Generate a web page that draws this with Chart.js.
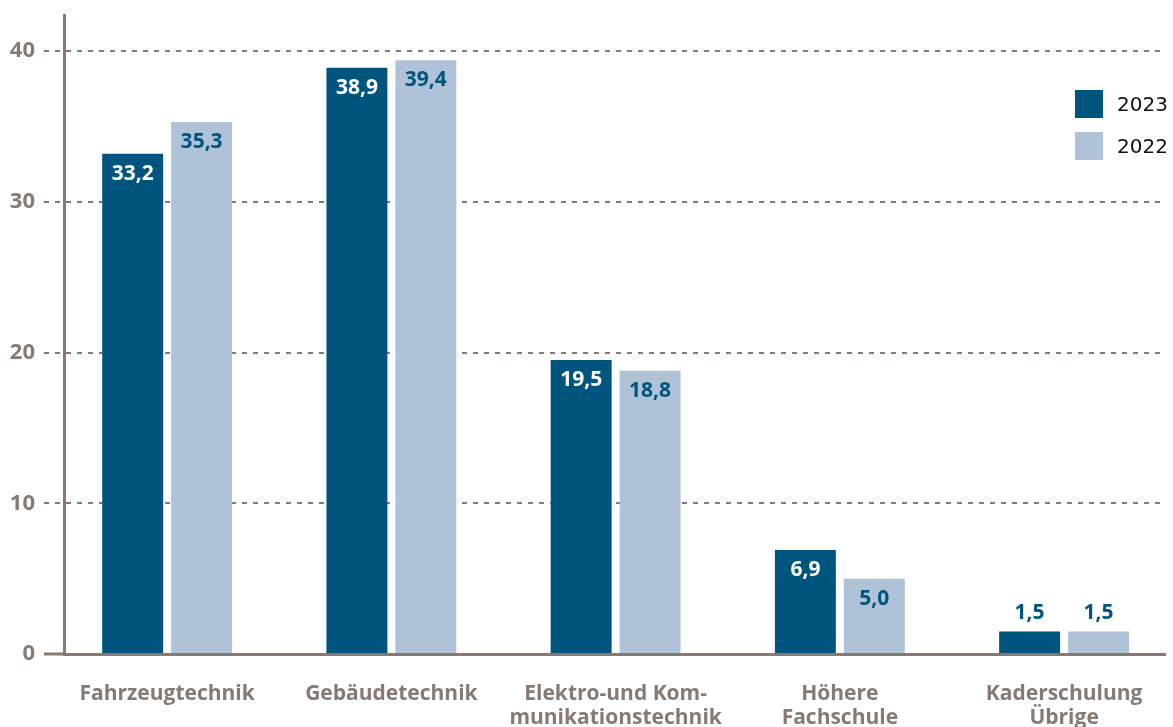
<!DOCTYPE html>
<html lang="de">

<head>
    <meta charset="UTF-8">
    <meta name="viewport" content="width=device-width, initial-scale=1.0">
    <script src="https://cdn.jsdelivr.net/npm/chart.js"></script>
    <title>Lernende nach Bereich</title>
    <style>
        body { margin: 0; background: #fff; }
        .grafico { position: relative; width: 1173px; height: 727px; overflow: hidden; }
        #legende { position: absolute; left: 1075px; top: 90px; font-family: "DejaVu Sans", sans-serif; font-size: 20px; color: #111; }
        .item { display: flex; align-items: center; height: 28px; margin-bottom: 14px; }
        .caixa { width: 28px; height: 28px; margin-right: 14px; }
    </style>
</head>

<body>
    <div class="grafico">
        <canvas id="bereichChart"></canvas>
        <div id="legende"></div>
    </div>
</body>

</html>

<script>
    // Daten
    const bereiche = [
        ['Fahrzeugtechnik'],
        ['Gebäudetechnik'],
        ['Elektro-und Kom-', 'munikationstechnik'],
        ['Höhere', 'Fachschule'],
        ['Kaderschulung', 'Übrige']
    ];
    const werte2023 = [33.2, 38.9, 19.5, 6.9, 1.5];
    const werte2022 = [35.3, 39.4, 18.8, 5.0, 1.5];
    const jahre = ['2023', '2022'];
    const yTicks = [0, 10, 20, 30, 40];

    const dunkel = '#00557f';
    const hell = '#afc2d8';
    const grau = '#877a72';

    // Werte-Beschriftung auf den Balken
    const wertePlugin = {
        id: 'werte',
        afterDatasetsDraw(chart) {
            const ctx = chart.ctx;
            ctx.save();
            ctx.font = 'bold 21px "Open Sans"';
            ctx.textAlign = 'center';
            ctx.textBaseline = 'middle';
            chart.data.datasets.forEach((ds, i) => {
                chart.getDatasetMeta(i).data.forEach((bar, j) => {
                    const texto = ds.data[j].y.toFixed(1).replace('.', ',');
                    const h = bar.base - bar.y;
                    if (h > 40) {
                        ctx.fillStyle = i === 0 ? '#ffffff' : dunkel;
                        ctx.fillText(texto, bar.x, bar.y + 20);
                    } else {
                        ctx.fillStyle = dunkel;
                        ctx.fillText(texto, bar.x, bar.y - 18);
                    }
                });
            });
            ctx.restore();
        }
    };

    const chart = new Chart(document.getElementById('bereichChart'), {
        type: 'bar',
        data: {
            datasets: [{
                label: jahre[0],
                data: werte2023.map((v, i) => ({ x: i, y: v })),
                backgroundColor: dunkel
            }, {
                label: jahre[1],
                data: werte2022.map((v, i) => ({ x: i, y: v })),
                backgroundColor: hell
            }]
        },
        options: {
            responsive: true,
            maintainAspectRatio: false,
            animation: false,
            categoryPercentage: 0.615,
            barPercentage: 0.884,
            layout: { padding: { top: 15, right: 8, left: 0, bottom: 0 } },
            plugins: {
                legend: { display: false },
                tooltip: { enabled: false }
            },
            scales: {
                x: {
                    type: 'linear',
                    offset: false,
                    min: -0.46,
                    max: 4.45,
                    afterBuildTicks: (s) => { s.ticks = bereiche.map((b, i) => ({ value: i })); },
                    afterFit: (s) => { s.height = 73; s.paddingLeft = 0; s.paddingRight = 0; },
                    grid: { display: false, drawTicks: false, offset: false },
                    border: { display: true, color: grau, width: 3 },
                    ticks: {
                        autoSkip: false,
                        maxRotation: 0,
                        padding: 28,
                        color: grau,
                        font: { family: 'Open Sans', weight: 'bold', size: 21, lineHeight: 1.15 },
                        callback: (v) => bereiche[v]
                    }
                },
                y: {
                    min: 0,
                    max: 42.4,
                    afterBuildTicks: (s) => { s.ticks = yTicks.map(v => ({ value: v })); },
                    afterFit: (s) => { s.width = 64; s.paddingTop = 0; s.paddingBottom = 0; },
                    grid: {
                        color: (c) => c.tick && c.tick.value === 0 ? 'rgba(0,0,0,0)' : grau,
                        lineWidth: 2,
                        tickLength: 20,
                        tickColor: grau,
                        tickWidth: (c) => c.tick && c.tick.value === 0 ? 3 : 2,
                        tickBorderDash: (c) => c.tick && c.tick.value === 0 ? [] : [5, 6]
                    },
                    border: { display: true, color: grau, width: 3, dash: [5, 6] },
                    ticks: {
                        padding: 9,
                        color: grau,
                        font: { family: 'Open Sans', weight: 'bold', size: 22 }
                    }
                }
            }
        },
        plugins: [wertePlugin]
    });

    // Legende rechts oben
    const legende = document.getElementById('legende');
    chart.data.datasets.forEach((ds) => {
        const item = document.createElement('div');
        item.className = 'item';
        item.innerHTML = '<div class="caixa" style="background:' + ds.backgroundColor + '"></div><span>' + ds.label + '</span>';
        legende.appendChild(item);
    });
</script>
